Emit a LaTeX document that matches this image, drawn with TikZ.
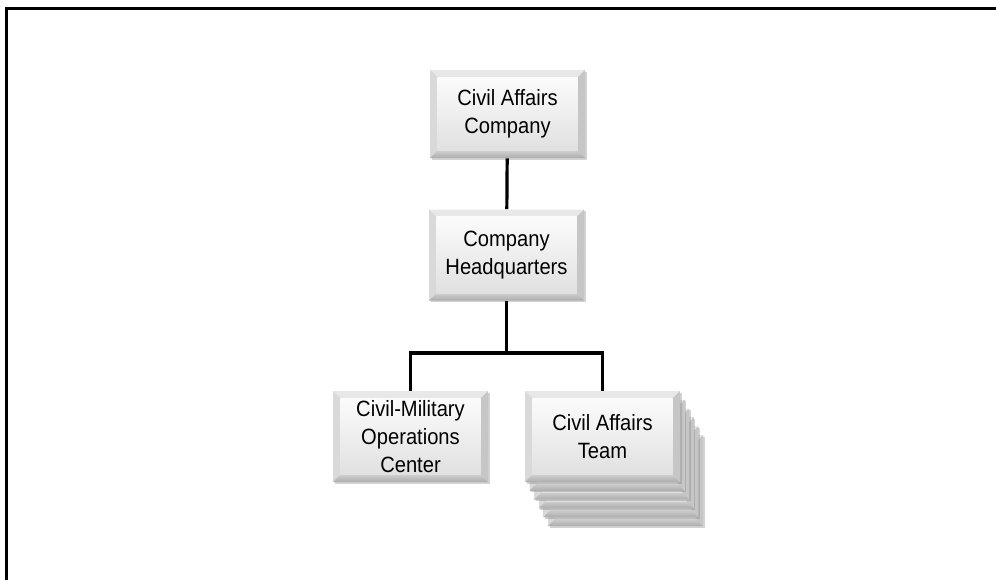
\documentclass[tikz,border=0pt]{standalone}
\usepackage{fontspec}
\newfontfamily\boxfont[FakeStretch=0.91]{Liberation Sans}
\usetikzlibrary{shadows}

\begin{document}
\begin{tikzpicture}[x=0.75pt,y=-0.75pt,
        orgbox/.style={rectangle,inner sep=0pt,minimum width=116.25pt,minimum height=68.25pt,
            align=center,font=\boxfont\fontsize{16.6}{21}\selectfont,fill=gray!35,
            drop shadow={shadow xshift=1.2pt,shadow yshift=-1.2pt,opacity=0.35},
            path picture={
                \path (path picture bounding box.north west) coordinate (pnw)
                      (path picture bounding box.south east) coordinate (pse);
                \path ([shift={(5.5pt,-5.5pt)}]pnw) coordinate (qnw)
                      ([shift={(-5.5pt,5.5pt)}]pse) coordinate (qse);
                \fill[gray!18] (pnw) -- (pnw -| pse) -- (qnw -| qse) -- (qnw) -- cycle;   % top
                \fill[gray!30] (pnw) -- (qnw) -- (qnw |- qse) -- (pnw |- pse) -- cycle;  % left
                \fill[gray!45] (pnw -| pse) -- (pse) -- (qse) -- (qnw -| qse) -- cycle;  % right
                \shade[top color=gray!38,bottom color=gray!65]
                    (pnw |- pse) -- (pse) -- (qse) -- (qnw |- qse) -- cycle;               % bottom
                \shade[top color=gray!3,bottom color=gray!24] (qnw) rectangle (qse);
            }},
        link/.style={line width=2.4pt}]
        \useasboundingbox (0,0) rectangle (996,579);
        \draw [line width=2.5pt] (6.6,580) -- (6.6,8.3) -- (997,8.3);

        \draw (507.5,114) node (company) [orgbox,minimum height=66pt] {Civil Affairs\\Company};
        \draw (506.5,255) node (hq) [orgbox] {Company\\Headquarters};
        \draw (410.5,436.5) node (cmoc) [orgbox] {Civil-Military\\Operations\\Center};

        % stacked copies behind the team box
        \foreach \i in {5,4,3,2,1}
            \draw (602.5+4.6*\i,436.5+8.8*\i) node (team\i) [orgbox] {};
        \draw (602.5,436.5) node (team) [orgbox] {Civil Affairs\\Team};

        \coordinate (fork) at (hq.south |- 0,353);
        \draw [link] (company) -- (hq);
        \draw [link] (hq) -- (fork);
        \draw [link] (cmoc.north) |- (fork) -| (team.north);
    \end{tikzpicture}
\end{document}
